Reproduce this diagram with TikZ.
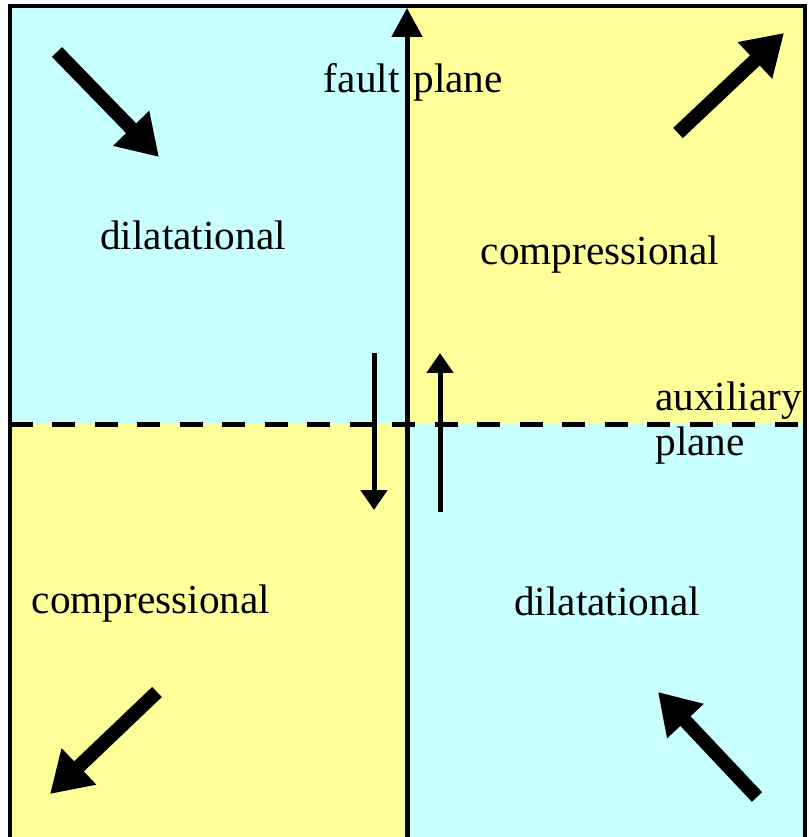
\documentclass[tikz,border=0pt]{standalone}
\usepackage{fontspec}
\setmainfont{Liberation Serif}
\usetikzlibrary{arrows.meta}
\definecolor{dilcol}{HTML}{C8FFFF}
\definecolor{comcol}{HTML}{FFFF99}
\begin{document}
\begin{tikzpicture}[x=0.02cm,y=-0.02cm,
    quadlabel/.style={font=\fontsize{23.5}{26}\selectfont, inner sep=0pt, anchor=base},
    motion/.style={line width=0.28cm, -{Triangle[length=0.8cm,width=0.95cm]}},
    slip/.style={line width=0.1cm, -{Triangle[length=0.4cm,width=0.52cm]}}]
\useasboundingbox (0,0) rectangle (808,837);
    % Draw the four quadrants
\fill[dilcol] (10,6) rectangle (407,424);
\fill[comcol] (407,6) rectangle (805,424);
\fill[comcol] (10,424) rectangle (407,837);
\fill[dilcol] (407,424) rectangle (805,837);
\draw[line width=0.07cm] (10,837) -- (10,6) -- (805,6) -- (805,837);

% planes
\coordinate (fb) at (407,837);
\coordinate (ft) at (407,8);
\draw[line width=0.1cm, -{Triangle[length=0.58cm,width=0.6cm]}] (fb) -- (ft);
\coordinate (aw) at (10,424);
\coordinate (ae) at (805,424);
\draw[line width=0.1cm, dash pattern=on 0.46cm off 0.39cm] (aw) -- (ae);

% slip on the fault
\coordinate (s1a) at (374,353);
\coordinate (s1b) at (374,510);
\draw[slip] (s1a) -- (s1b);
\coordinate (s2a) at (440,512);
\coordinate (s2b) at (440,353);
\draw[slip] (s2a) -- (s2b);

% first motions
\coordinate (m1a) at (57,52);
\coordinate (m1b) at (159,157);
\draw[motion] (m1a) -- (m1b);
\coordinate (m2a) at (678,133);
\coordinate (m2b) at (784,33);
\draw[motion] (m2a) -- (m2b);
\coordinate (m3a) at (157,692);
\coordinate (m3b) at (50,794);
\draw[motion] (m3a) -- (m3b);
\coordinate (m4a) at (757,797);
\coordinate (m4b) at (658,692);
\draw[motion] (m4a) -- (m4b);

% labels
\node[quadlabel, anchor=base east] (fault) at (400,93) {fault};
\node[quadlabel, anchor=base west] (plane) at (413,93) {plane};
\node[quadlabel] (dil1) at (193,250) {dilatational};
\node[quadlabel] (com1) at (600,265) {compressional};
\node[quadlabel, anchor=base west] (aux) at (655,410) {auxiliary};
\node[quadlabel, anchor=base west] (aux2) at (655,455) {plane};
\node[quadlabel] (com2) at (151,613) {compressional};
\node[quadlabel] (dil2) at (607,615) {dilatational};
\end{tikzpicture}
\end{document}
